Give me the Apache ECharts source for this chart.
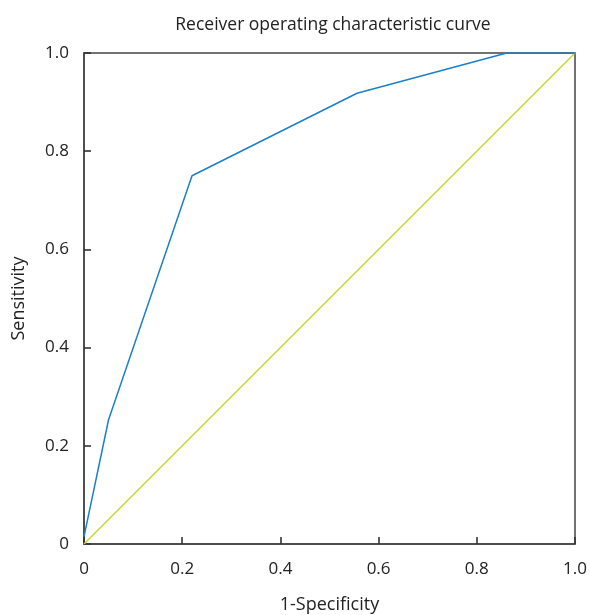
<!DOCTYPE html>
<html><head><meta charset="utf-8">
<script src="https://cdn.jsdelivr.net/npm/echarts@6/dist/echarts.min.js"></script>
<style>html,body{margin:0;padding:0;background:#fff}#c{width:590px;height:615px}</style>
</head><body><div id="c"></div>
<script>
const rocX = [0, 0.05, 0.22, 0.556, 0.861, 1.0];
const rocY = [0.015, 0.253, 0.75, 0.918, 1.0, 1.0];
const refX = [0, 1];
const refY = [0, 1];
const tickVals = [0, 0.2, 0.4, 0.6, 0.8, 1.0];

const chart = echarts.init(document.getElementById('c'));
const fmt = v => (v === 0 ? '0' : v.toFixed(1));
const font = '"Open Sans", "Noto Sans", sans-serif';
chart.setOption({
  animation: false,
  title: {
    text: 'Receiver operating characteristic curve',
    left: 328, top: 11, textAlign: 'center',
    textStyle: {fontFamily: font, fontSize: 17.5, fontWeight: 'normal', color: '#222'}
  },
  grid: {left: 84, right: 15, top: 53, bottom: 71, show: true, borderColor: '#444', borderWidth: 1.5, backgroundColor: 'transparent', outerBoundsMode: 'none', containLabel: false},
  xAxis: {
    type: 'value', min: 0, max: 1, interval: 0.2,
    name: '1-Specificity', nameLocation: 'middle', nameGap: 52,
    nameTextStyle: {fontFamily: font, fontSize: 18, color: '#222'},
    axisLine: {show: true, onZero: false, lineStyle: {color: '#444', width: 1.5}},
    axisTick: {show: true, inside: true, length: 7, lineStyle: {color: '#333', width: 1.6}},
    axisLabel: {fontFamily: font, fontSize: 17, color: '#222', margin: 17, formatter: fmt},
    splitLine: {show: false}
  },
  yAxis: {
    type: 'value', min: 0, max: 1, interval: 0.2,
    name: 'Sensitivity', nameLocation: 'middle', nameGap: 56,
    nameTextStyle: {fontFamily: font, fontSize: 18, color: '#222'},
    axisLine: {show: true, onZero: false, lineStyle: {color: '#444', width: 1.5}},
    axisTick: {show: true, inside: true, length: 7, lineStyle: {color: '#333', width: 1.6}},
    axisLabel: {fontFamily: font, fontSize: 17, color: '#222', margin: 15, formatter: fmt},
    splitLine: {show: false}
  },
  series: [
    {
      type: 'line', data: refX.map((x, i) => [x, refY[i]]),
      symbol: 'none', lineStyle: {color: '#c3d82e', width: 1.5}
    },
    {
      type: 'line', data: rocX.map((x, i) => [x, rocY[i]]),
      symbol: 'none', lineStyle: {color: '#1a80c8', width: 1.5}
    }
  ]
});
</script></body></html>
